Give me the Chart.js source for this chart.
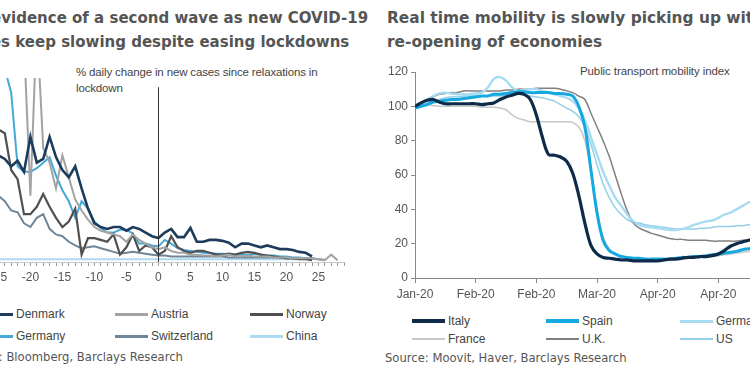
<!DOCTYPE html>
<html>
<head>
<meta charset="utf-8">
<script src="https://cdn.jsdelivr.net/npm/chart.js@4/dist/chart.umd.min.js"></script>
<style>
  html,body{margin:0;padding:0;width:750px;height:375px;overflow:hidden;background:#fff;position:relative}
  .title{position:absolute;white-space:nowrap;font:bold 15px "DejaVu Sans",sans-serif;color:#555;line-height:24px}
  .source{position:absolute;white-space:nowrap;font:11.6px "DejaVu Sans",sans-serif;color:#555}
  .note{position:absolute;white-space:nowrap;font:11.5px "Liberation Sans",Arial,sans-serif;color:#444;line-height:16px;letter-spacing:-0.15px}
  canvas{position:absolute}
  .legend{position:absolute;font:12px "Liberation Sans",Arial,sans-serif;color:#444}
  .legend .item{position:absolute;white-space:nowrap;display:flex;align-items:center;height:16px}
  .legend .swatch{display:inline-block;width:33px;margin-right:3px}
</style>
</head>
<body>

<div class="title" style="left:-37px;top:6px">No evidence of a second wave as new COVID-19<br>cases keep slowing despite easing lockdowns</div>
<div class="title" style="left:387px;top:6px;font-size:15.4px">Real time mobility is slowly picking up with<br>re-opening of economies</div>

<div class="note" style="left:76px;top:64px">% daily change in new cases since relaxations in<br>lockdown</div>
<div class="note" style="left:580px;top:63px;letter-spacing:-0.1px">Public transport mobility index</div>

<canvas id="casesChart" width="362" height="216" style="left:-12px;top:70px"></canvas>
<canvas id="mobilityChart" width="414" height="242" style="left:375px;top:60px"></canvas>

<div class="legend" id="casesLegend" style="left:-20px;top:306px"></div>
<div class="legend" id="mobilityLegend" style="left:412px;top:313px"></div>

<div class="source" style="left:-41px;top:350px">Source: Bloomberg, Barclays Research</div>
<div class="source" style="left:385px;top:351px">Source: Moovit, Haver, Barclays Research</div>

<script>
/* ── Left chart: days since relaxation of lockdown ── */
const relDays=[-25,-24,-23,-22,-21,-20,-19,-18,-17,-16,-15,-14,-13,-12,-11,-10,-9,-8,-7,-6,-5,-4,-3,-2,-1,
  0,1,2,3,4,5,6,7,8,9,10,11,12,13,14,15,16,17,18,19,20,21,22,23,24,25,26,27,28];

const denmark=[58,56,52,55,49,68,54,56,68,57,50,46,52,40,29,21,19,18,19,19,17,19,18,16,14,
  13,16,18,13.5,13.5,18.5,11,11,12,12,11.5,10.5,8,10,10,9,8,9,8,7,7,6.5,5.5,5,3,null,null,null,null];
const austria=[120,120,120,120,120,36,130,62,54,40,58,46,34,28,23,19,17,16,15,14,11,15,12,10,8,
  7,8,6,5,5,4,4,3.5,3.5,3,3.5,4,3,3,3.5,3,3,3,2.5,2.5,2.5,2,2,2,2,1.5,1,4,1];
const norway=[72,70,50,45,26,26,30,37,30,24,19,22,29,4,13,13,12,11,15,4,8,15,6,9,8,
  4,6,14,8,6,5,6,6,5,4,4,4.5,4,5,5.5,5,4,3.5,3,2.5,2,2,1.5,1.5,1,null,null,null,null];
const germany=[110,105,92,52,49,49,51,54,57,47,39,33,24,33,29,22,18.5,16,16,17.5,17.5,15.5,10,10,9,
  8.5,12,10,7.5,6.5,6,5.5,5,5,4.5,4.5,4,4,4,4,4.5,4,3.5,3.5,3,3,2.5,2.5,2,1.5,null,null,null,null];
const switzerland=[36,33,28,27,21,19,24,26,18,15,14,11,9,7.5,8,8.5,7.5,6.5,5.5,4.5,5,5.5,5,4.5,4,
  3.5,3.5,3,3,3,3,3,3,3,3,3,2.5,2.5,2.5,2.5,2.5,2.5,2.5,2.5,2.5,2.5,2,2,2,2,1.5,1,null,null];
const china=[1.5,1.5,1.5,1.5,1.5,1.5,1.5,1.5,1.5,1.5,1.5,1.5,1.5,1.5,1.5,1.5,1.5,1.5,1.5,1.5,1.5,1.5,1.5,1.5,1.5,
  1.5,1.5,1.5,1.5,1.5,1.5,1.5,1.5,1.5,1.5,1.5,1.5,1.5,1.5,1.5,1.5,1.5,1.5,1.5,1.5,1.5,1.5,1.5,1.5,1.5,1.5,1.5,null,null];

const caseNames=['Denmark','Austria','Norway','Germany','Switzerland','China'];
const caseValues=[denmark,austria,norway,germany,switzerland,china];
const caseColors=['#1d3c5c','#a3a3a3','#505050','#45a8d6','#6e8698','#acdaf1'];
const caseWidths=[2.6,2,2.2,2,2,2];
const caseLegendWidths=[3,3,3,3,3,3];
const relaxMarkerTop=95;   // top of the vertical "day 0" marker, in y units

/* ── Right chart: public transport mobility index ── */
const mobDays=[0,2,4,6,8,10,12,14,16,18,20,22,24,26,28,30,32,34,36,38,40,42,44,46,48,50,52,54,56,58,
  60,62,64,66,68,70,72,74,76,78,80,82,84,86,88,90,92,94,96,98,100,102,104,106,108,110,112];
const mobTickLabels=['Jan-20','Feb-20','Feb-20','Mar-20','Apr-20','Apr-20',''];

const italy=[100,102,103.5,104,102.5,101.5,101.5,101.5,101.5,101.5,101.5,101,101.5,102,104,105.5,106.5,107.5,107,104,
  95,82,72,71.5,70.5,68,61,48,32,19,14,12,11.5,11,10.5,10.5,10,10,10,10,10,10.5,11,11,11.5,12,12,12.5,12.5,13,
  14,16,18.5,20,21,22,22.5];
const spain=[99,100,101,102.5,103,103.5,104,104,104.5,105,105.5,106,106,107,107,107.5,108,108.5,108.5,108,
  108,108,108,107.5,107.5,107,106,100,88,63,38,22,16,14,12.5,12,11.5,11.5,11,11,11,11,11,11.5,12,12,12.5,12.5,13,13.5,
  14,14.5,15,15.5,16.5,17,17.5];
const germanyMob=[100,102,104,106,107.5,108,107.5,107,107,107,107.5,108,111,116,117,115,111,109,109.5,110,
  110,109,108,107,106,105,103,99,92,82,72,62,54,47,42,37,33,31,30,29.5,29,28.5,28,28,28.5,29.5,31,32,33,33.5,
  35,37,38,40,42,44,45];
const france=[100,101,101,100.5,100,100,100,100,100,100,100,99.5,99.5,99.5,99,98,95,93,92,91,
  91,91,91,91,91,91,90.5,88,80,62,40,24,17,14,12.5,12,11.5,11.5,11,11,11,11,11,11.5,11.5,12,12,12.5,12.5,13,
  13,13.5,14,14.5,15,15.5,16];
const uk=[100,102,104,105.5,107,107.5,108,108,109,109,109,109,109,109,109,109.5,109.5,110,110,110,
  110.5,110.5,110.5,110.5,110,109,108,106,104,96,88,80,71,60,49,39,32,29,27.5,26,25,24,23,22.5,22.5,22,22,22,22,21.5,
  21.5,21.5,21.5,21.5,22,22,22];
const us=[100,101,102,103,104,105,105.5,105.5,106,106,106,106,106,106,106,106.5,106.5,107,106.5,106,
  105.5,105,104,103,101,99,97,94,88,78,66,55,47,41,37,34,32.5,32,31,30.5,30,29.5,29,28.5,28.5,28.5,28.5,29,29,29.5,
  30,30,30,30.5,30.5,31,31];

const mobNames=['Italy','Spain','Germany','France','U.K.','US'];
const mobValues=[italy,spain,germanyMob,france,uk,us];
const mobColors=['#0e2c4a','#14a9e0','#a6dbf2','#c6c6c6','#808080','#93cfe8'];
const mobWidths=[3.2,3,2.4,1.5,1.5,1.5];
const mobLegendWidths=[4,4,3,1.5,1.5,1.5];

/* ── Shared look ── */
Chart.defaults.font.family='"Liberation Sans", Arial, sans-serif';
Chart.defaults.font.size=12;
Chart.defaults.color='#555';
Chart.defaults.animation=false;

function buildLegend(el,names,colors,widths,colW,rowH){
  names.forEach((n,i)=>{
    const it=document.createElement('div');
    it.className='item';
    it.style.left=(i%3)*colW+'px';
    it.style.top=Math.floor(i/3)*rowH+'px';
    const sw=document.createElement('span');
    sw.className='swatch';
    sw.style.height=widths[i]+'px';
    sw.style.background=colors[i];
    it.appendChild(sw);
    it.appendChild(document.createTextNode(n));
    el.appendChild(it);
  });
}
buildLegend(document.getElementById('casesLegend'),caseNames,caseColors,caseLegendWidths,135,22);
buildLegend(document.getElementById('mobilityLegend'),mobNames,mobColors,mobLegendWidths,134,18);

/* vertical marker at day 0 */
const dayZeroLine={
  id:'dayZeroLine',
  afterDatasetsDraw(chart){
    const {ctx,scales:{x,y}}=chart;
    const px=Math.round(x.getPixelForValue(0))+0.5;
    ctx.save();
    ctx.strokeStyle='#333';
    ctx.lineWidth=1;
    ctx.beginPath();
    ctx.moveTo(px,y.getPixelForValue(relaxMarkerTop));
    ctx.lineTo(px,y.bottom);
    ctx.stroke();
    ctx.restore();
  }
};

new Chart(document.getElementById('casesChart'),{
  type:'line',
  data:{
    labels:relDays,
    datasets:caseNames.map((n,i)=>({
      label:n,
      data:relDays.map((d,k)=>({x:d,y:caseValues[i][k]})),
      borderColor:caseColors[i],
      borderWidth:caseWidths[i],
      pointRadius:0,
      tension:0,
      spanGaps:false
    }))
  },
  options:{
    responsive:false,
    layout:{padding:{top:8,right:6,left:0,bottom:0}},
    plugins:{legend:{display:false},tooltip:{enabled:false}},
    scales:{
      x:{
        type:'linear',min:-26,max:29,
        afterFit:s=>{s.height=24;},
        ticks:{stepSize:1,autoSkip:false,maxRotation:0,padding:4,
          callback:v=>(v%5===0&&v>-26)?String(v):''},
        grid:{display:true,drawOnChartArea:false,drawTicks:true,tickLength:4,color:'#9a9a9a'},
        border:{display:true,color:'#c8c8c8'}
      },
      y:{display:false,min:0,max:100}
    }
  },
  plugins:[dayZeroLine]
});

new Chart(document.getElementById('mobilityChart'),{
  type:'line',
  data:{
    datasets:mobNames.map((n,i)=>({
      label:n,
      data:mobDays.map((d,k)=>({x:d,y:mobValues[i][k]})),
      borderColor:mobColors[i],
      borderWidth:mobWidths[i],
      pointRadius:0,
      tension:0.35
    }))
  },
  options:{
    responsive:false,
    layout:{padding:{top:12,right:10,left:0,bottom:0}},
    plugins:{legend:{display:false},tooltip:{enabled:false}},
    scales:{
      x:{
        type:'linear',min:0,max:120,
        afterFit:s=>{s.height=24;},
        ticks:{stepSize:20,autoSkip:false,maxRotation:0,padding:4,
          callback:v=>mobTickLabels[v/20]||''},
        grid:{display:true,drawOnChartArea:false,drawTicks:true,tickLength:5,color:'#888'},
        border:{display:true,color:'#888'}
      },
      y:{
        min:0,max:120,
        afterFit:s=>{s.width=40;},
        ticks:{stepSize:20,padding:3},
        grid:{display:true,drawOnChartArea:false,drawTicks:true,tickLength:4,color:'#888'},
        border:{display:true,color:'#888'}
      }
    }
  }
});
</script>
</body>
</html>
